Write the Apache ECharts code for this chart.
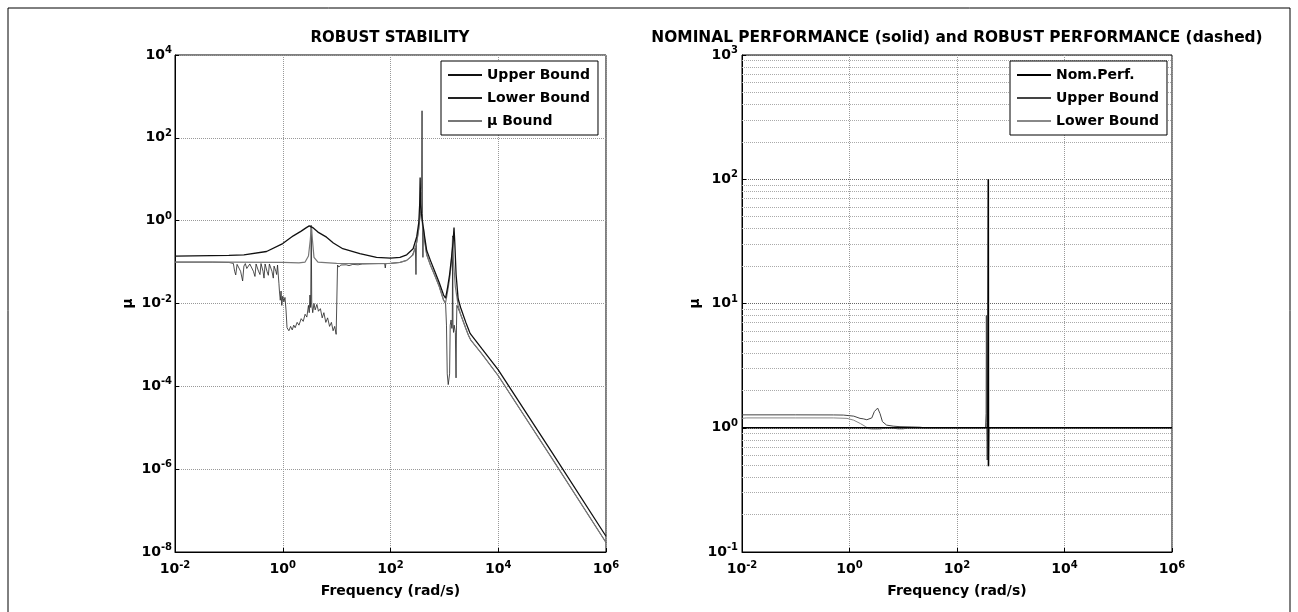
<!DOCTYPE html>
<html><head><meta charset="utf-8">
<script src="https://cdn.jsdelivr.net/npm/echarts@6/dist/echarts.min.js"></script>
<style>html,body{margin:0;padding:0;background:#fff}#c{width:1298px;height:612px}</style>
</head><body><div id="c"></div>
<script>
// ---------- DATA (frequency rad/s, mu) ----------
const rsUpperBound = [
[0.01,0.14],[0.1,0.145],[0.19,0.15],[0.5,0.18],[1.0,0.28],[1.57,0.43],[2.2,0.56],[2.7,0.67],[3.1,0.75],[3.35,0.79],[3.6,0.68],[4.5,0.53],[6.5,0.40],[8.7,0.29],[13,0.21],[27,0.16],[55,0.13],[100,0.125],
[150,0.13],[200,0.15],[263,0.21],[307,0.41],[335,0.9],[348,2.5],[355,11],[362,2.5],[375,1.5],[390,1.0],[420,0.5],[470,0.19],[550,0.11],[676,0.056],[800,0.032],[967,0.016],[1054,0.0134],
[1150,0.025],[1250,0.05],[1350,0.12],[1450,0.3],[1510,0.68],[1560,0.3],[1650,0.05],[1800,0.013],[2000,0.008],[2500,0.0035],[2800,0.0024],[3000,0.0019],[5000,0.0008],[1e4,0.00025],[1e5,2.5e-6],[1e6,2.4e-8]
];
const rsMuBound = [
[0.01,0.1],[0.1,0.1],[1.0,0.098],[2.0,0.096],[2.6,0.1],[3.0,0.14],[3.25,0.35],[3.4,0.78],[3.55,0.35],[3.8,0.13],[4.5,0.1],[10,0.093],[30,0.092],[100,0.093],
[150,0.098],[200,0.11],[263,0.15],[307,0.3],[335,0.65],[355,1.8],[368,6],[378,1.5],[395,0.7],[420,0.4],[470,0.15],[550,0.085],[676,0.045],[800,0.026],[967,0.012],[1054,0.0105],
[1150,0.02],[1250,0.04],[1330,0.08],[1400,0.2],[1420,0.4],[1445,0.2],[1480,0.1],[1600,0.025],[1800,0.009],[2000,0.0055],[2500,0.0025],[2800,0.0017],[2950,0.0016],[3100,0.0013],[5000,0.0006],[1e4,0.00018],[1e5,1.8e-6],[1e6,1.7e-8]
];
const rsLowerBound = [
[0.01,0.1],[0.05,0.1],[0.1,0.098],[0.121,0.093],[0.128,0.06],[0.134,0.049],[0.142,0.088],[0.15,0.09],[0.165,0.06],[0.18,0.035],[0.19,0.08],[0.202,0.092],[0.215,0.07],[0.23,0.065],[0.245,0.09],[0.265,0.088],[0.285,0.06],[0.305,0.045],[0.32,0.09],[0.337,0.086],[0.355,0.06],[0.378,0.05],[0.395,0.092],[0.412,0.088],[0.43,0.06],[0.449,0.041],[0.47,0.09],[0.489,0.086],[0.51,0.06],[0.54,0.048],[0.565,0.09],[0.597,0.086],[0.63,0.06],[0.668,0.041],[0.69,0.08],[0.718,0.086],[0.745,0.06],[0.771,0.05],[0.8,0.085],[0.828,0.08],
[0.85,0.03],[0.87,0.019],[0.9,0.012],[0.93,0.02],[0.96,0.009],[1.0,0.015],[1.05,0.011],[1.1,0.014],[1.15,0.007],[1.2,0.0026],[1.3,0.0022],[1.4,0.0028],[1.5,0.0023],[1.6,0.003],[1.7,0.0026],[1.85,0.0035],[2.0,0.003],[2.2,0.0043],[2.4,0.0037],[2.6,0.0055],[2.8,0.0047],[3.0,0.009],[3.1,0.006],[3.2,0.016],[3.3,0.008],[3.38,0.78],[3.45,0.01],[3.6,0.006],[3.8,0.01],[4.0,0.007],[4.3,0.0095],[4.6,0.0065],[5.0,0.0075],[5.4,0.0045],[5.8,0.006],[6.3,0.0035],[6.8,0.0045],[7.4,0.0028],[8.0,0.0035],[8.6,0.0022],[9.2,0.0028],[9.8,0.0018],[10.2,0.0019],
[10.4,0.085],[11,0.076],[12,0.085],[13,0.079],[15,0.086],[17,0.082],[20,0.088],[25,0.086],[30,0.09],[40,0.091],[60,0.092],[78,0.092],[80,0.072],[82,0.092],[100,0.093],
[150,0.098],[200,0.11],[250,0.14],[290,0.22],[297,0.05],[303,0.28],[330,0.55],[360,1.5],[378,5],[385,450],[392,1.5],[400,0.13],[408,0.7],[430,0.35],[470,0.15],[550,0.085],[676,0.045],[800,0.026],[967,0.012],[1054,0.0098],
[1094,0.003],[1130,2e-4],[1180,1.1e-4],[1217,1.15e-4],[1250,2e-4],[1283,0.003],[1330,0.004],[1377,0.0025],[1400,0.0035],[1429,0.43],[1445,0.003],[1480,0.002],[1520,0.003],[1600,0.002],[1646,1.6e-4],[1680,0.003],[1707,0.009],[1800,0.0095],
[2000,0.0055],[2500,0.0025],[2800,0.0017],[2950,0.0016],[3100,0.0013],[5000,0.0006],[1e4,0.00018],[1e5,1.8e-6],[1e6,1.7e-8]
];
const npNominal = [[0.01,1],[375,1],[382,100],[385,0.49],[390,1],[1e6,1]];
const rpUpperBound = [
[0.01,1.27],[0.1,1.27],[0.5,1.268],[0.77,1.265],[1.2,1.24],[1.57,1.19],[1.7,1.22],[1.8,1.18],[1.95,1.21],[2.1,1.16],[2.24,1.12],[2.6,1.2],[2.9,1.35],[3.34,1.44],[3.7,1.3],[4.1,1.12],[4.9,1.05],[6.5,1.03],[8.7,1.02],[14,1.015],[20.5,1.01],[25,1.0],
[340,1.0],[348,1.3],[352,8],[358,1.1],[365,0.55],[372,1.0],[1e6,1.0]
];
const rpLowerBound = [
[0.01,1.19],[0.012,1.2],[0.1,1.2],[0.5,1.2],[0.9,1.19],[1.2,1.15],[1.6,1.08],[2.0,1.02],[2.24,0.985],[2.6,0.976],[3.5,0.976],[3.96,0.98],[4.5,1.0],[6,1.0],[8,0.978],[10,0.978],[12,1.0],[1e6,1.0]
];
const rpMinorGrid = [0.2,0.3,0.4,0.5,0.6,0.7,0.8,0.9,2,3,4,5,6,7,8,9,20,30,40,50,60,70,80,90,200,300,400,500,600,700,800,900];
const leftTitle = 'ROBUST STABILITY';
const rightTitle = 'NOMINAL PERFORMANCE (solid) and ROBUST PERFORMANCE (dashed)';
const leftLegend = ['Upper Bound', 'Lower Bound', 'μ Bound'];
const rightLegend = ['Nom.Perf.', 'Upper Bound', 'Lower Bound'];

// ---------- CHART ----------
const FONT = 'DejaVu Sans';
const chart = echarts.init(document.getElementById('c'), null, {renderer: 'canvas'});
function supLabel(v) {
  const e = Math.round(Math.log10(v));
  return '{b|10}{e|' + e + '}';
}
const labelRich = {
  b: {fontFamily: FONT, fontWeight: 'bold', fontSize: 14, color: '#000'},
  e: {fontFamily: FONT, fontWeight: 'bold', fontSize: 10, color: '#000', padding: [0, 0, 9, 0]}
};
const nameStyle = {fontFamily: FONT, fontWeight: 'bold', fontSize: 14, color: '#000'};
const tickStyle = {show: true, inside: true, length: 4, lineStyle: {color: '#000', width: 1}};
function xAxisCfg(idx) {
  return {
    type: 'log', logBase: 100, gridIndex: idx, min: 0.01, max: 1e6,
    name: 'Frequency (rad/s)', nameLocation: 'middle', nameGap: 32, nameTextStyle: nameStyle,
    axisLine: {show: true, lineStyle: {color: '#000', width: 1}},
    axisTick: tickStyle,
    axisLabel: {formatter: supLabel, rich: labelRich, margin: 8},
    splitLine: {show: true, lineStyle: {color: '#999', type: 'dotted', width: 1}}
  };
}
const lgBase = {
  orient: 'vertical', top: 61, backgroundColor: '#fff', borderColor: '#000', borderWidth: 1,
  padding: [6, 8, 6, 6], itemGap: 7, itemWidth: 34, itemHeight: 14, selectedMode: false, z: 10,
  itemStyle: {opacity: 0},
  textStyle: {fontFamily: FONT, fontWeight: 'bold', fontSize: 14, color: '#000', lineHeight: 16},
  formatter: n => n.replace(/^(RS|RP) /, '')
};
const option = {
  animation: false,
  backgroundColor: '#fff',
  grid: [
    {left: 175, top: 55, width: 431, height: 497, show: true, borderColor: '#000', borderWidth: 1, backgroundColor: 'transparent'},
    {left: 742, top: 55, width: 430, height: 497, show: true, borderColor: '#000', borderWidth: 1, backgroundColor: 'transparent'}
  ],
  xAxis: [xAxisCfg(0), xAxisCfg(1)],
  yAxis: [
    {type: 'log', logBase: 100, gridIndex: 0, min: 1e-8, max: 1e4,
     name: 'μ', nameLocation: 'middle', nameGap: 40, nameRotate: 90, nameTextStyle: nameStyle,
     axisLine: {show: true, lineStyle: {color: '#000', width: 1}}, axisTick: tickStyle,
     axisLabel: {formatter: supLabel, rich: labelRich, margin: 3},
     splitLine: {show: true, lineStyle: {color: '#999', type: 'dotted', width: 1}}},
    {type: 'log', logBase: 10, gridIndex: 1, min: 0.1, max: 1000,
     name: 'μ', nameLocation: 'middle', nameGap: 40, nameRotate: 90, nameTextStyle: nameStyle,
     axisLine: {show: true, lineStyle: {color: '#000', width: 1}}, axisTick: tickStyle,
     axisLabel: {formatter: supLabel, rich: labelRich, margin: 4},
     splitLine: {show: true, lineStyle: {color: '#666', type: 'dotted', width: 1}}}
  ],
  legend: [
    Object.assign({}, lgBase, {left: 441, data: leftLegend.map(n => 'RS ' + n)}),
    Object.assign({}, lgBase, {left: 1010, data: rightLegend.map(n => 'RP ' + n)})
  ],
  graphic: [
    {type: 'rect', shape: {x: 8, y: 8, width: 1282, height: 700}, style: {fill: 'none', stroke: '#000', lineWidth: 1}, silent: true},
    {type: 'text', x: 390, y: 38, style: {text: leftTitle, font: 'bold 15px "DejaVu Sans"', fill: '#000', align: 'center', verticalAlign: 'middle'}},
    {type: 'text', x: 957, y: 38, style: {text: rightTitle, font: 'bold 15.4px "DejaVu Sans"', fill: '#000', align: 'center', verticalAlign: 'middle'}}
  ],
  series: [
    {name: 'RS Upper Bound', type: 'line', xAxisIndex: 0, yAxisIndex: 0, data: rsUpperBound, symbol: 'none', color: '#111', lineStyle: {color: '#111', width: 1.3}, z: 4},
    {name: 'RS Lower Bound', type: 'line', xAxisIndex: 0, yAxisIndex: 0, data: rsLowerBound, symbol: 'none', color: '#222', lineStyle: {color: '#222', width: 0.8}, z: 3},
    {name: 'RS μ Bound', type: 'line', xAxisIndex: 0, yAxisIndex: 0, data: rsMuBound, symbol: 'none', color: '#777', lineStyle: {color: '#777', width: 1.2}, z: 3},
    {name: 'grid minor', type: 'line', xAxisIndex: 1, yAxisIndex: 1, data: [], symbol: 'none', silent: true, z: 1,
     markLine: {silent: true, z: 1, symbol: ['none', 'none'], label: {show: false}, animation: false,
       lineStyle: {color: '#aaa', type: 'dotted', width: 1}, data: rpMinorGrid.map(v => ({yAxis: v}))}},
    {name: 'RP Nom.Perf.', type: 'line', xAxisIndex: 1, yAxisIndex: 1, data: npNominal, symbol: 'none', color: '#000', lineStyle: {color: '#000', width: 1.6}, z: 4},
    {name: 'RP Upper Bound', type: 'line', xAxisIndex: 1, yAxisIndex: 1, data: rpUpperBound, symbol: 'none', color: '#444', lineStyle: {color: '#444', width: 1}, z: 3},
    {name: 'RP Lower Bound', type: 'line', xAxisIndex: 1, yAxisIndex: 1, data: rpLowerBound, symbol: 'none', color: '#888', lineStyle: {color: '#888', width: 1}, z: 3}
  ]
};
chart.setOption(option);
</script>
</body></html>
